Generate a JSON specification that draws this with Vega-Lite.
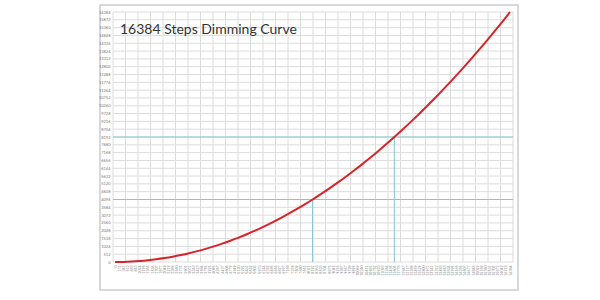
{
  "$schema": "https://vega.github.io/schema/vega-lite/v6.json",
  "autosize": "none",
  "width": 418,
  "height": 285,
  "padding": {"left": 100, "top": 5, "right": 82, "bottom": 10},
  "background": "white",
  "config": {
    "view": {"stroke": "#cccccc", "strokeWidth": 1.5},
    "font": "Lato"
  },
  "title": {
    "text": "16384 Steps Dimming Curve",
    "anchor": "start",
    "frame": "group",
    "orient": "top",
    "offset": -32,
    "dx": 20,
    "fontSize": 14,
    "fontWeight": "normal",
    "color": "#333333",
    "font": "Lato"
  },
  "datasets": {
    "curve": [
      {"step": 0, "level": 0}, {"step": 2, "level": 7.1}, {"step": 4, "level": 28.4}, {"step": 6, "level": 64},
      {"step": 8, "level": 113.8}, {"step": 10, "level": 177.8}, {"step": 12, "level": 256}, {"step": 14, "level": 348.4},
      {"step": 16, "level": 455.1}, {"step": 18, "level": 576}, {"step": 20, "level": 711.1}, {"step": 22, "level": 860.4},
      {"step": 24, "level": 1024}, {"step": 26, "level": 1201.8}, {"step": 28, "level": 1393.8}, {"step": 30, "level": 1600},
      {"step": 32, "level": 1820.4}, {"step": 34, "level": 2055.1}, {"step": 36, "level": 2304}, {"step": 38, "level": 2567.1},
      {"step": 40, "level": 2844.4}, {"step": 42, "level": 3136}, {"step": 44, "level": 3441.8}, {"step": 46, "level": 3761.8},
      {"step": 48, "level": 4096}, {"step": 50, "level": 4444.4}, {"step": 52, "level": 4807.1}, {"step": 54, "level": 5184},
      {"step": 56, "level": 5575.1}, {"step": 58, "level": 5980.4}, {"step": 60, "level": 6400}, {"step": 62, "level": 6833.8},
      {"step": 64, "level": 7281.8}, {"step": 66, "level": 7744}, {"step": 68, "level": 8220.4}, {"step": 70, "level": 8711.1},
      {"step": 72, "level": 9216}, {"step": 74, "level": 9735.1}, {"step": 76, "level": 10268.4}, {"step": 78, "level": 10816},
      {"step": 80, "level": 11377.8}, {"step": 82, "level": 11953.8}, {"step": 84, "level": 12544}, {"step": 86, "level": 13148.4},
      {"step": 88, "level": 13767.1}, {"step": 90, "level": 14400}, {"step": 92, "level": 15047.1}, {"step": 94, "level": 15708.4},
      {"step": 96, "level": 16384}
    ],
    "vmarks": [
      {"step": 48, "level": 4096},
      {"step": 67.88, "level": 8192}
    ],
    "hmarks": [
      {"step": -0.5, "stepEnd": 96.7, "level": 4096},
      {"step": -0.5, "stepEnd": 96.7, "level": 8192}
    ],
    "gridx": [
      {"step": -0.5, "level": 16384}, {"step": 2.54, "level": 16384}, {"step": 5.58, "level": 16384}, {"step": 8.61, "level": 16384},
      {"step": 11.65, "level": 16384}, {"step": 14.69, "level": 16384}, {"step": 17.73, "level": 16384}, {"step": 20.76, "level": 16384},
      {"step": 23.8, "level": 16384}, {"step": 26.84, "level": 16384}, {"step": 29.88, "level": 16384}, {"step": 32.91, "level": 16384},
      {"step": 35.95, "level": 16384}, {"step": 38.99, "level": 16384}, {"step": 42.03, "level": 16384}, {"step": 45.06, "level": 16384},
      {"step": 48.1, "level": 16384}, {"step": 51.14, "level": 16384}, {"step": 54.18, "level": 16384}, {"step": 57.21, "level": 16384},
      {"step": 60.25, "level": 16384}, {"step": 63.29, "level": 16384}, {"step": 66.33, "level": 16384}, {"step": 69.36, "level": 16384},
      {"step": 72.4, "level": 16384}, {"step": 75.44, "level": 16384}, {"step": 78.48, "level": 16384}, {"step": 81.51, "level": 16384},
      {"step": 84.55, "level": 16384}, {"step": 87.59, "level": 16384}, {"step": 90.63, "level": 16384}, {"step": 93.66, "level": 16384},
      {"step": 96.7, "level": 16384}
    ],
    "gridy": [
      {"step": -0.5, "stepEnd": 96.7, "level": 0}, {"step": -0.5, "stepEnd": 96.7, "level": 512},
      {"step": -0.5, "stepEnd": 96.7, "level": 1024}, {"step": -0.5, "stepEnd": 96.7, "level": 1536},
      {"step": -0.5, "stepEnd": 96.7, "level": 2048}, {"step": -0.5, "stepEnd": 96.7, "level": 2560},
      {"step": -0.5, "stepEnd": 96.7, "level": 3072}, {"step": -0.5, "stepEnd": 96.7, "level": 3584},
      {"step": -0.5, "stepEnd": 96.7, "level": 4096}, {"step": -0.5, "stepEnd": 96.7, "level": 4608},
      {"step": -0.5, "stepEnd": 96.7, "level": 5120}, {"step": -0.5, "stepEnd": 96.7, "level": 5632},
      {"step": -0.5, "stepEnd": 96.7, "level": 6144}, {"step": -0.5, "stepEnd": 96.7, "level": 6656},
      {"step": -0.5, "stepEnd": 96.7, "level": 7168}, {"step": -0.5, "stepEnd": 96.7, "level": 7680},
      {"step": -0.5, "stepEnd": 96.7, "level": 8192}, {"step": -0.5, "stepEnd": 96.7, "level": 8704},
      {"step": -0.5, "stepEnd": 96.7, "level": 9216}, {"step": -0.5, "stepEnd": 96.7, "level": 9728},
      {"step": -0.5, "stepEnd": 96.7, "level": 10240}, {"step": -0.5, "stepEnd": 96.7, "level": 10752},
      {"step": -0.5, "stepEnd": 96.7, "level": 11264}, {"step": -0.5, "stepEnd": 96.7, "level": 11776},
      {"step": -0.5, "stepEnd": 96.7, "level": 12288}, {"step": -0.5, "stepEnd": 96.7, "level": 12800},
      {"step": -0.5, "stepEnd": 96.7, "level": 13312}, {"step": -0.5, "stepEnd": 96.7, "level": 13824},
      {"step": -0.5, "stepEnd": 96.7, "level": 14336}, {"step": -0.5, "stepEnd": 96.7, "level": 14848},
      {"step": -0.5, "stepEnd": 96.7, "level": 15360}, {"step": -0.5, "stepEnd": 96.7, "level": 15872},
      {"step": -0.5, "stepEnd": 96.7, "level": 16384}
    ]
  },
  "encoding": {
    "x": {"field": "step", "type": "quantitative",
      "scale": {"domain": [-3.66, 97.92], "nice": false, "zero": false},
      "axis": {
        "values": [0,1,2,3,4,5,6,7,8,9,10,11,12,13,14,15,16,17,18,19,20,21,22,23,24,25,26,27,28,29,30,31,32,33,34,35,36,37,38,39,40,41,42,43,44,45,46,47,48,49,50,51,52,53,54,55,56,57,58,59,60,61,62,63,64,65,66,67,68,69,70,71,72,73,74,75,76,77,78,79,80,81,82,83,84,85,86,87,88,89,90,91,92,93,94,95,96],
        "labelExpr": "format(round(datum.value*16384/96),'d')",
        "labelAngle": -90,
        "labelFontSize": 3.5,
        "labelColor": "#777777",
        "labelOverlap": false,
        "labelFlush": false,
        "labelPadding": 3,
        "offset": -28,
        "grid": false,
        "ticks": false,
        "domain": false,
        "title": null
      }
    },
    "y": {"field": "level", "type": "quantitative",
      "scale": {"domain": [-1835, 16843], "nice": false, "zero": false},
      "axis": {
        "values": [0,512,1024,1536,2048,2560,3072,3584,4096,4608,5120,5632,6144,6656,7168,7680,8192,8704,9216,9728,10240,10752,11264,11776,12288,12800,13312,13824,14336,14848,15360,15872,16384],
        "format": "d",
        "labelFontSize": 4,
        "labelColor": "#777777",
        "labelOverlap": false,
        "labelFlush": false,
        "labelPadding": 3,
        "offset": -13,
        "grid": false,
        "ticks": false,
        "domain": false,
        "title": null
      }
    }
  },
  "layer": [
    {
      "data": {"name": "gridx"},
      "mark": {"type": "rule", "color": "#dcdcdc", "strokeWidth": 1},
      "encoding": {"y2": {"datum": 0}}
    },
    {
      "data": {"name": "gridy"},
      "mark": {"type": "rule", "color": "#dcdcdc", "strokeWidth": 1},
      "encoding": {"x2": {"field": "stepEnd"}}
    },
    {
      "data": {"name": "hmarks"},
      "mark": {"type": "rule", "color": "#84c5d9", "strokeWidth": 1},
      "encoding": {"x2": {"field": "stepEnd"}}
    },
    {
      "data": {"name": "vmarks"},
      "mark": {"type": "rule", "color": "#84c5d9", "strokeWidth": 1},
      "encoding": {"y2": {"datum": 0}}
    },
    {
      "data": {"name": "curve"},
      "mark": {"type": "line", "color": "#d8232a", "strokeWidth": 2, "interpolate": "monotone"},
      "encoding": {}
    }
  ]
}
